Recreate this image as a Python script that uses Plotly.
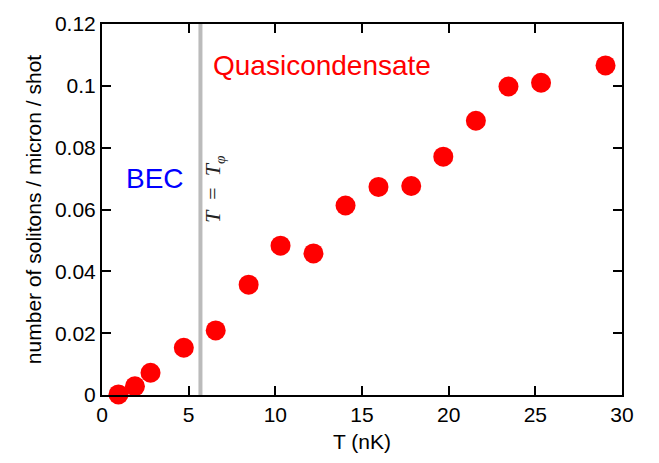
import plotly.graph_objects as go

T_nK = [0.95, 1.9, 2.8, 4.72, 6.56, 8.46, 10.3, 12.2, 14.05, 15.95, 17.84, 19.69, 21.57, 23.45, 25.33, 29.05]
solitons = [0.0002, 0.0028, 0.0072, 0.0153, 0.0209, 0.0357, 0.0483, 0.0458, 0.0613, 0.0673, 0.0676, 0.0771, 0.0887, 0.0998, 0.1010, 0.1066]
T_phi = 5.68

x_ticks = [0, 5, 10, 15, 20, 25, 30]
y_ticks = [0, 0.02, 0.04, 0.06, 0.08, 0.1, 0.12]
y_tick_text = ["0", "0.02", "0.04", "0.06", "0.08", "0.1", "0.12"]

FONT = "Liberation Sans, Arial, sans-serif"

fig = go.Figure()
fig.add_trace(go.Scatter(
    x=T_nK, y=solitons, mode="markers",
    marker=dict(color="#ff0000", size=20, line=dict(width=0)),
    cliponaxis=False, showlegend=False,
))

fig.add_shape(type="line", x0=T_phi, x1=T_phi, y0=0, y1=1, yref="paper", xref="x",
              line=dict(color="#bbbbbb", width=4), layer="below")

fig.add_annotation(x=12.67, y=0.1067, text="Quasicondensate", showarrow=False,
                   font=dict(family=FONT, size=28, color="#ff0000"))
fig.add_annotation(x=3.08, y=0.0701, text="BEC", showarrow=False,
                   font=dict(family=FONT, size=28, color="#0000ff"))
fig.add_annotation(x=T_phi, y=0.0668, xshift=14,
                   text="<i>T</i>\u2002=\u2002<i>T</i><sub><i>φ</i></sub>",
                   showarrow=False, textangle=-90,
                   font=dict(family="Liberation Serif, DejaVu Serif, serif", size=22, color="#222222"))

axis_common = dict(
    showline=True, linecolor="black", linewidth=2, mirror="ticks",
    ticks="inside", ticklen=9, tickwidth=2, tickcolor="black",
    showgrid=False, zeroline=False,
    tickfont=dict(family=FONT, size=21, color="black"),
)

fig.update_xaxes(range=[0, 30], tickvals=x_ticks, ticktext=[str(v) for v in x_ticks],
                 title=dict(text="T (nK)", font=dict(family=FONT, size=21, color="black"), standoff=9),
                 **axis_common)
fig.update_yaxes(range=[0, 0.12], tickvals=y_ticks, ticktext=y_tick_text,
                 title=dict(text="number of solitons / micron / shot",
                            font=dict(family=FONT, size=21, color="black"), standoff=8),
                 **axis_common)

fig.update_layout(
    width=659, height=463,
    margin=dict(l=102, r=37, t=15, b=68, pad=0),
    plot_bgcolor="white", paper_bgcolor="white",
)

fig.write_html("out.html", config={"displayModeBar": False},
               post_script="document.body.style.margin='0';")
